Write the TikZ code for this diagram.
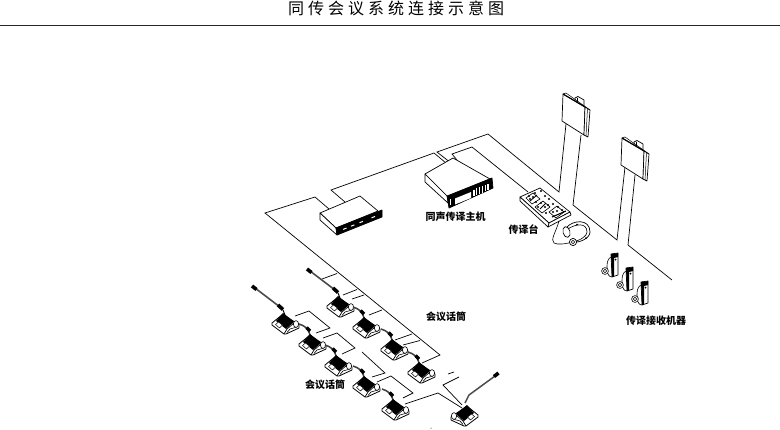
\documentclass[tikz,border=0pt]{standalone}
\usepackage{fontspec}
\usetikzlibrary{calc}
\setmainfont{Noto Sans CJK SC}
\newfontfamily\titlefont[LetterSpace=25]{Noto Sans CJK SC}
\tikzset{
  x=1pt,y=-1pt,
  wire/.style={draw=black,line width=0.7pt,line join=miter},
  edge/.style={draw=black,line width=0.7pt,fill=white,line join=round},
  lab/.style={font=\fontsize{10}{12}\selectfont\bfseries,inner sep=0pt,text=black},
  confbase/.pic={
    \path[edge,line width=.8pt] (-13,0)--(-2,-9)--(14,2)--(14,5)--(1,11)--(-1,11)--(-13,2)--cycle;
    \fill[black] (-9,-2)--(-2,-10)--(9,-1)--(1,6)--cycle;
    \path[edge,line width=.5pt] (-9.5,1.5)--(-6.5,-1)--(-2.5,2)--(-5.5,5)--cycle;
    \draw[line width=.7pt] (-1,11)--(2,6)--(9,0);
    \draw[line width=.6pt] (2,9.5)--(5,6)--(12,4);
    \path[edge,line width=.6pt] (11,1) ellipse (2.6 and 3.4);
  },
  longstalk/.pic={
    \draw[gray!60!black,line width=1.6pt] (-30,-35)--(-5,-16);
    \draw[black,line width=3.6pt] (-33,-37)--(-28.5,-33.5);
    \draw[black,line width=3.6pt] (-7,-18)--(-2,-13.5);
    \draw[line width=1pt] (-2,-13)--(0,-8);
    \pic {confbase};
  },
  shortstalk/.pic={
    \draw[gray!50!black,line width=1.5pt] (-13,-20)..controls (-7,-18) and (-4,-16)..(-2,-9);
    \draw[black,line width=3.2pt] (-5.5,-16.5)--(-2,-13);
    \pic {confbase};
  },
  screenpanel/.pic={
    \path[edge] (12,4)--(15,2.5)--(21,6)--(21,12)--(12,8)--cycle;
    \draw[line width=.5pt] (14,3.5)--(14,8);
    \path[edge] (0,0)--(-1,27)--(21,41)--(22,13)--cycle;
    \path[edge] (22,13)--(27,16)--(25,43)--(21,41)--cycle;
    \draw[line width=.5pt] (24.5,14.5)--(23,42);
    \draw[line width=1.1pt] (0,0)--(22,13);
    \draw[line width=.5pt] (0,0)--(3,-1)--(27,16);
  },
  receiver/.pic={
    \draw[line width=.6pt] (0,3)..controls (-4,5) and (-4,10)..(-4,14)..controls (-4,20) and (-2,23)..(1,23);
    \path[edge] (0,0)--(7,-1)--(7,21)--(1,23)--cycle;
    \fill[black] (0,0)--(3,-.5)--(3,22)--(1,23)--cycle;
    \fill[black] (3,0)--(7,-1)--(7,3)--(3,4)--cycle;
    \fill[black] (4.5,5.5) circle (1);
    \path[edge,line width=.6pt] (-6,17) circle (3.4);
    \draw[line width=.6pt] (-6,17) circle (1.8);
  }
}
\begin{document}
\begin{tikzpicture}
\useasboundingbox[fill=white] (0,0) rectangle (780,429);
% title
\node[inner sep=0pt,font=\titlefont\fontsize{16}{18}\selectfont] (title) at (396,8) {同传会议系统连接示意图};
\coordinate (ruleL) at (0,25.5); \coordinate (ruleR) at (780,25.5);
\draw[line width=.8pt,black!85] (ruleL)--(ruleR);

% named ends
\coordinate (boxA) at (329,209); \coordinate (boxB) at (345,202);
\coordinate (hostA) at (446,163); \coordinate (hostB) at (451,163); \coordinate (hostC) at (457,160);
\coordinate (desk) at (528,192);
\coordinate (pole1L) at (566,124); \coordinate (pole1R) at (581,135);
\coordinate (pole2L) at (625,167); \coordinate (pole2R) at (635,175);
\coordinate (endR) at (672,280);
\coordinate (micLast) at (422,363);
\coordinate (freeW) at (362,352);

% wiring
\draw[wire] (boxA)--(315,197)--(265,213)--(440,355)--(micLast);
\draw[wire] (boxB)--(331,190)--(434,153)--(hostA);
\draw[wire] (hostB)--(437,152)--(488,134)--(559,192)--(pole1L);
\draw[wire] (hostC)--(452,154)--(472,147)--(desk);
\draw[wire] (pole1R)--(573,205)--(617,240)--(pole2L);
\draw[wire] (pole2R)--(628,245)--(endR);

% branches from the bus
\coordinate (b1) at (337,273.5); \coordinate (b2) at (357,289.5); \coordinate (b3) at (364,295);
\coordinate (b4) at (382,310); \coordinate (b5) at (412,334); \coordinate (b6) at (420,340.5);
\draw[wire] (b1)--(322,279);
\draw[wire] (b2)--(343,295);
\draw[wire] (b3)--(352,299);
\draw[wire] (b4)--(369,315);
\draw[wire] (b5)--(395,340);
\draw[wire] (b6)--(403,345);
% front row wiring
\draw[wire] (295,316)--(309,311)--(330,328)--(316,333);
\draw[wire] (323,338)--(337,333)--(355,348)--(342,354);
\draw[wire] (freeW)--(385,373)--(372,377);
\draw[wire] (377,382)--(391,376)--(413,393)--(403,398);
\draw[wire] (405,404)--(438,393)--(462,408);
\draw[wire] (459,377)--(443,385)--(462,405);
\draw[wire] (448,374)--(454,372);
\fill (431,428) circle (.5);

% small box
\path[edge] (320,213)--(360,196)--(378,211)--(336,228)--cycle;
\path[edge] (320,213)--(320,220)--(337,235)--(336,228)--cycle;
\path[edge,fill=black] (336,228)--(382,210)--(382,217)--(337,235)--cycle;
\foreach \a/\b in {.12/.2,.3/.38,.5/.58,.78/.86}
  \draw[white,line width=1pt] ($(338,231.5)!\a!(381,214)$)--($(338,231.5)!\b!(381,214)$);

% host
\path[edge] (425,174)--(453,158)--(490,179)--(448,197)--cycle;
\path[edge] (425,174)--(425,182)--(448,203)--(448,197)--cycle;
\path[edge,fill=black] (447,196)--(492,178)--(493,188)--(449,208)--cycle;
\path[fill=white] (455,198.5)--(471,192)--(471,198)--(455,204.5)--cycle;
\foreach \i in {0,...,5}
  \draw[white,line width=1.1pt] (474+\i*2.8,189.5-\i*1.15)--(474+\i*2.8,196-\i*1.15);
\draw[white,line width=.7pt] (450,199)--(450,205);

% desk unit
\path[edge] (520,197)--(540,188)--(570,212)--(549,223)--cycle;
\path[edge] (520,197)--(520,201)--(548,227)--(549,223)--cycle;
\path[edge] (549,223)--(570,212)--(571,215)--(548,227)--cycle;
\draw[line width=.6pt] (526,198)--(533,193)--(540,199)--(532,204)--cycle;
\draw[line width=.6pt] (535,207)--(543,201)--(550,207)--(542,213)--cycle;
\draw[line width=.6pt] (549,212)--(557,206)--(564,212)--(556,218)--cycle;
\foreach \p in {(535,193),(541,191),(545,196),(530,199),(536,202),(538,207),(545,207),(553,204),(558,207),(562,210),(553,212),(546,213),(529,196),(533,197),(541,203),(549,199),(557,211),(548,205)}
  \fill \p circle (1.2);
\draw[line width=1.1pt] (552,217)--(566,211);
\draw[line width=.9pt] (530,201)--(537,195);
\draw[line width=.9pt] (540,209)--(546,203);

% headset
\coordinate (phone) at (573,242);
\draw[line width=.6pt] (559,221)..controls (556,232) and (550,240)..(554,243)..controls (558,245) and (565,244)..(phone);
\draw[line width=.7pt] (566,228)..controls (572,220) and (590,218)..(590,232)..controls (590,238) and (580,243)..(phone);
\draw[line width=.6pt] (568,229)..controls (575,224) and (587,222)..(587,232)..controls (587,236) and (581,240)..(phone);
\path[edge,rotate around={15:(566.5,232)}] (566.5,232) ellipse (3.5 and 5.5);
\path[edge] (phone) circle (3.6);
\draw[line width=.6pt] (phone) circle (1.8);
\fill (577,224.5) circle (1);
\fill (586,238) circle (1);

% poles' panels
\pic at (563,94) {screenpanel};
\pic at (622,138) {screenpanel};

% receivers
\pic at (611,254) {receiver};
\pic at (626,268) {receiver};
\pic at (641,282) {receiver};

% conference units
\pic at (285,323) {longstalk};
\pic at (312,344) {shortstalk};
\pic at (338,365) {shortstalk};
\pic at (366,386) {shortstalk};
\pic at (395,409) {shortstalk};
\pic at (340,306) {longstalk};
\pic at (366,327) {shortstalk};
\pic at (394,349) {shortstalk};
\pic at (421,372) {shortstalk};
% chairman unit
\draw[gray!60!black,line width=1.5pt] (465,403)--(469,395)--(495,376);
\draw[black,line width=3.6pt] (494,376.5)--(498.5,373);
\pic[xscale=-1] at (465,415) {confbase};

% labels
\node[lab] (lHost) at (455.5,217) {同声传译主机};
\node[lab] (lDesk) at (523.5,230) {传译台};
\node[lab] (lMicR) at (446,317) {会议话筒};
\node[lab] (lMicL) at (325,385) {会议话筒};
\node[lab] (lRecv) at (656,321) {传译接收机器};
\end{tikzpicture}
\end{document}
